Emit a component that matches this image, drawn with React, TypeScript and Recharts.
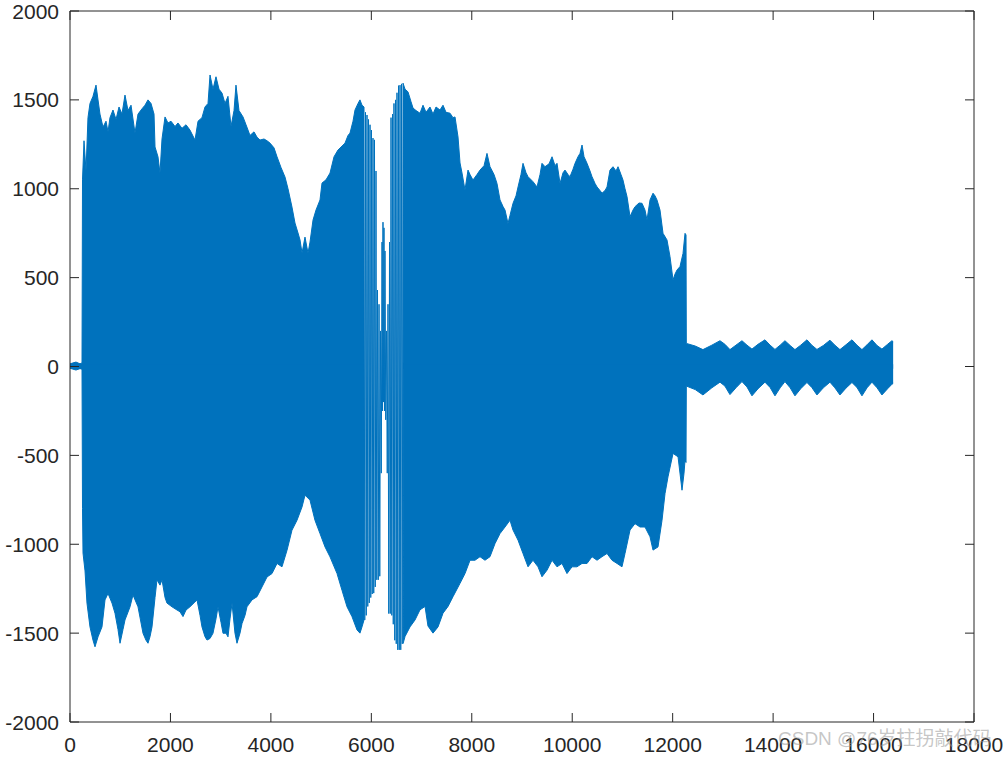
import { ComposedChart, Area, Line, XAxis, YAxis } from 'recharts'

const SIGNAL = '#0072BD'
const AXIS = '#262626'
const FONT = '"Liberation Sans", Arial, Helvetica, sans-serif'

const xTicks = [0, 2000, 4000, 6000, 8000, 10000, 12000, 14000, 16000, 18000]
const yTicks = [-2000, -1500, -1000, -500, 0, 500, 1000, 1500, 2000]

// upper envelope of the waveform (sample index, amplitude); null = sparse burst near 6200
const upperT = [
  0, 119, 199, 239, 249, 279, 319, 358, 398, 458, 518, 558, 597, 657, 717, 757, 796, 856, 916, 976,
  1035, 1095, 1155, 1215, 1294, 1354, 1434, 1493, 1553, 1613, 1673, 1693, 1752, 1792, 1832, 1892, 1951,
  2011, 2091, 2150, 2230, 2310, 2389, 2489, 2549, 2628, 2688, 2748, 2788, 2847, 2907, 2967, 3027, 3086,
  3146, 3206, 3266, 3305, 3365, 3445, 3505, 3584, 3664, 3724, 3783, 3863, 3923, 3982, 4062, 4122, 4201,
  4281, 4341, 4420, 4480, 4540, 4580, 4620, 4679, 4739, 4779, 4839, 4898, 4978, 5018, 5097, 5177, 5257,
  5336, 5416, 5476, 5536, 5575, 5635, 5675, 5735, 5774, 5814, 5854, 6240,
  6631, 6671, 6730, 6790, 6830, 6890, 6969, 7029, 7089, 7168, 7228, 7288, 7367, 7427, 7487, 7567, 7626,
  7666, 7726, 7766, 7806, 7865, 7925, 7965, 8024, 8104, 8164, 8244, 8303, 8363, 8443, 8502, 8562, 8622,
  8662, 8721, 8761, 8821, 8881, 8921, 8980, 9020, 9080, 9120, 9219, 9299, 9359, 9398, 9458, 9538, 9598,
  9657, 9697, 9757, 9817, 9856, 9916, 9956, 10016, 10056, 10115, 10155, 10195, 10235, 10295, 10354,
  10394, 10454, 10494, 10553, 10593, 10653, 10693, 10752, 10812, 10872, 10912, 10971, 11011, 11051,
  11091, 11151, 11210, 11250, 11330, 11390, 11449, 11489, 11549, 11609, 11649, 11688, 11748, 11808,
  11887, 11947, 12007, 12047, 12087, 12146, 12206, 12246, 12266,
  12272, 12450, 12603, 12780, 12942, 13040, 13141, 13260, 13380, 13480, 13579, 13700, 13838, 13940,
  14037, 14140, 14236, 14340, 14435, 14550, 14674, 14770, 14873, 15000, 15132, 15230, 15331, 15450,
  15570, 15670, 15769, 15870, 15968, 16070, 16167, 16280, 16366, 16390,
]
const upperV = [
  15, 25, 15, 20, 1050, 1270, 1100, 1400, 1480, 1520, 1583, 1500, 1420, 1347, 1380, 1320, 1400, 1443, 1390, 1460,
  1420, 1527, 1440, 1470, 1313, 1420, 1450, 1470, 1500, 1480, 1420, 1235, 1180, 1088, 1280, 1404, 1370,
  1380, 1350, 1370, 1340, 1360, 1330, 1274, 1380, 1400, 1460, 1480, 1640, 1560, 1630, 1560, 1538, 1480,
  1520, 1350, 1440, 1583, 1440, 1404, 1360, 1300, 1320, 1290, 1274, 1280, 1270, 1257, 1230, 1180, 1120,
  1066, 1000, 897, 807, 751, 712, 638, 728, 638, 700, 824, 880, 937, 1032, 1050, 1088, 1180,
  1218, 1240, 1257, 1300, 1313, 1380, 1443, 1480, 1500, 1470, 1460, null,
  1594, 1560, 1545, 1490, 1454, 1440, 1425, 1470, 1430, 1460, 1420, 1460, 1443, 1470, 1430, 1425, 1400,
  1404, 1291, 1145, 1088, 993, 1105, 1080, 1049, 1080, 1105, 1130, 1199, 1124, 1080, 1030, 937, 900,
  880, 805, 850, 918, 960, 1010, 1080, 1143, 1090, 1068, 1040, 1010, 1080, 1143, 1124, 1140, 1180,
  1130, 1143, 1030, 1090, 1105, 1080, 1068, 1110, 1143, 1180, 1199, 1246, 1180, 1143, 1100,
  1068, 1030, 1010, 990, 975, 990, 1010, 1105, 1124, 1100, 1124, 1080, 1049, 1000,
  956, 843, 880, 899, 920, 918, 880, 824, 937, 975, 960, 937, 880, 749,
  712, 618, 487, 520, 543, 562, 636, 749, 740,
  130, 115, 95, 120, 145, 125, 95, 120, 145, 120, 98, 125, 150, 120,
  96, 120, 145, 118, 95, 120, 150, 120, 96, 118, 148, 120, 95, 122,
  150, 120, 95, 122, 150, 118, 98, 125, 145, 140,
]

// lower envelope of the waveform
const lowerT = [
  0, 119, 199, 239, 249, 259, 299, 338, 398, 458, 498, 558, 637, 697, 757, 836, 896, 956, 996, 1055,
  1095, 1195, 1254, 1354, 1454, 1513, 1553, 1593, 1633, 1693, 1732, 1792, 1832, 1892, 1931, 2031, 2131,
  2190, 2250, 2310, 2389, 2469, 2529, 2589, 2628, 2688, 2728, 2788, 2847, 2907, 2947, 3007, 3047, 3106,
  3146, 3186, 3226, 3285, 3325, 3385, 3425, 3485, 3524, 3624, 3724, 3823, 3923, 4022, 4122, 4221, 4321,
  4420, 4520, 4620, 4679, 4739, 4779, 4878, 4978, 5078, 5177, 5317, 5416, 5516, 5615, 5715, 5774, 5814,
  5854, 6240,
  6631, 6671, 6770, 6870, 6969, 7069, 7128, 7228, 7328, 7427, 7527, 7626, 7766, 7865, 7965, 8064, 8164,
  8263, 8363, 8463, 8562, 8662, 8761, 8821, 8921, 9020, 9120, 9219, 9319, 9398, 9498, 9598, 9697, 9797,
  9896, 9996, 10095, 10195, 10295, 10394, 10494, 10593, 10693, 10792, 10892, 10991, 11051, 11151, 11250,
  11350, 11449, 11549, 11609, 11708, 11788, 11848, 11907, 12007, 12107, 12186, 12226, 12246, 12266,
  12272, 12450, 12603, 12780, 12942, 13040, 13141, 13260, 13380, 13480, 13579, 13700, 13838, 13940,
  14037, 14140, 14236, 14340, 14435, 14550, 14674, 14770, 14873, 15000, 15132, 15230, 15331, 15450,
  15570, 15670, 15769, 15870, 15968, 16070, 16167, 16280, 16366, 16390,
]
const lowerV = [
  -10, -20, -12, -15, -800, -1049, -1150, -1331, -1465, -1540, -1577, -1521, -1465, -1313, -1277, -1331, -1388, -1480, -1557, -1480,
  -1426, -1352, -1285, -1352, -1501, -1540, -1557, -1520, -1465, -1300, -1200, -1230, -1200, -1300, -1331, -1352, -1370,
  -1380, -1407, -1370, -1352, -1330, -1313, -1400, -1465, -1520, -1539, -1530, -1501, -1420, -1352, -1440, -1501, -1500,
  -1521, -1420, -1331, -1500, -1557, -1500, -1446, -1400, -1352, -1313, -1295, -1240, -1184, -1165, -1108, -1127, -1034,
  -921, -865, -790, -724, -740, -752, -865, -940, -1015, -1071, -1165, -1259, -1352, -1407, -1482, -1500, -1465,
  -1426, null,
  -1560, -1519, -1465, -1426, -1369, -1350, -1460, -1500, -1465, -1388, -1350, -1295, -1220, -1165, -1090, -1090, -1070,
  -1090, -1070, -996, -940, -903, -865, -920, -977, -1052, -1127, -1090, -1127, -1183, -1146, -1090, -1127, -1108,
  -1165, -1127, -1127, -1108, -1108, -1070, -1090, -1070, -1052, -1090, -1108, -1127, -1052, -920, -884,
  -903, -903, -958, -1033, -1015, -865, -714, -621, -489, -508, -696, -600, -527, -540,
  -110, -130, -160, -120, -88, -110, -158, -120, -85, -115, -165, -125, -88, -118,
  -165, -120, -85, -120, -165, -125, -90, -118, -160, -120, -88, -120, -160, -122,
  -90, -118, -165, -120, -88, -120, -160, -125, -100, -95,
]

// individual oscillations visible in the sparse burst around 6000-6600
const burstT = [
  5854, 5869, 5884, 5899, 5914, 5929, 5944, 5959, 5974, 5989, 6003, 6018, 6033, 6048, 6063, 6078,
  6093, 6108, 6123, 6138, 6153, 6168, 6183, 6198, 6213, 6223, 6232, 6242, 6252, 6262, 6272, 6287,
  6302, 6317, 6332, 6347, 6362, 6377, 6392, 6407, 6422, 6437, 6451, 6466, 6481, 6496, 6511, 6526,
  6541, 6556, 6571, 6586, 6601, 6616, 6631,
]
const burstV = [
  1460, -1426, 1430, -1400, 1415, -1350, 1390, -1330, 1360, -1300, 1330, -1280, 1285, -1275, 1275, -1240,
  1100, -1200, 430, -1200, 350, -1180, 200, -600, 700, -250, 812, -200, 780, -250, 650, -300,
  200, -600, 350, -1390, 700, -1390, 1400, -1400, 1420, -1450, 1480, -1540, 1500, -1560, 1540, -1594,
  1580, -1594, 1583, -1594, 1590, -1560, 1594,
]

const toRows = (ts: number[], vs: (number | null)[]) => ts.map((t, i) => ({ t, v: vs[i] }))

const upperData = toRows(upperT, upperV)
const lowerData = toRows(lowerT, lowerV)
const burstData = toRows(burstT, burstV)

const TICK_LEN = 9

function BottomTick({ x, y, payload }: any) {
  return (
    <g>
      <line x1={x} x2={x} y1={y} y2={y - TICK_LEN} stroke={AXIS} />
      <text x={x} y={y + 30} textAnchor="middle" fontSize={21} fill={AXIS} fontFamily={FONT}>
        {payload.value}
      </text>
    </g>
  )
}

function LeftTick({ x, y, payload }: any) {
  return (
    <g>
      <line x1={x} x2={x + TICK_LEN} y1={y} y2={y} stroke={AXIS} />
      <text x={x - 11} y={y} dy="0.36em" textAnchor="end" fontSize={21} fill={AXIS} fontFamily={FONT}>
        {payload.value}
      </text>
    </g>
  )
}

function TopTick({ x, y }: any) {
  return <line x1={x} x2={x} y1={y} y2={y + TICK_LEN} stroke={AXIS} />
}

function RightTick({ x, y }: any) {
  return <line x1={x} x2={x - TICK_LEN} y1={y} y2={y} stroke={AXIS} />
}

export default function App() {
  return (
    <div style={{ position: 'absolute', left: 0, top: 0, width: 1007, height: 757, background: '#fff' }}>
      <ComposedChart width={1007} height={757} margin={{ top: 10, right: 32, bottom: 0, left: 0 }}>
        <XAxis
          xAxisId="bottom"
          dataKey="t"
          type="number"
          domain={[0, 18000]}
          ticks={xTicks}
          interval={0}
          allowDataOverflow
          height={35}
          stroke={AXIS}
          tickLine={false}
          tickSize={0}
          tickMargin={0}
          tick={BottomTick}
        />
        <XAxis
          xAxisId="top"
          orientation="top"
          dataKey="t"
          type="number"
          domain={[0, 18000]}
          ticks={xTicks}
          interval={0}
          allowDataOverflow
          height={1}
          stroke={AXIS}
          tickLine={false}
          tickSize={0}
          tickMargin={0}
          tick={TopTick}
        />
        <YAxis
          yAxisId="left"
          type="number"
          domain={[-2000, 2000]}
          ticks={yTicks}
          interval={0}
          allowDataOverflow
          width={70}
          stroke={AXIS}
          tickLine={false}
          tickSize={0}
          tickMargin={0}
          tick={LeftTick}
        />
        <YAxis
          yAxisId="right"
          orientation="right"
          type="number"
          domain={[-2000, 2000]}
          ticks={yTicks}
          interval={0}
          allowDataOverflow
          width={1}
          stroke={AXIS}
          tickLine={false}
          tickSize={0}
          tickMargin={0}
          tick={RightTick}
        />
        <Area
          data={upperData}
          xAxisId="bottom"
          yAxisId="left"
          dataKey="v"
          type="linear"
          baseValue={-12}
          stroke={SIGNAL}
          strokeWidth={1}
          fill={SIGNAL}
          fillOpacity={1}
          dot={false}
          activeDot={false}
          isAnimationActive={false}
        />
        <Area
          data={lowerData}
          xAxisId="bottom"
          yAxisId="left"
          dataKey="v"
          type="linear"
          baseValue={12}
          stroke={SIGNAL}
          strokeWidth={1}
          fill={SIGNAL}
          fillOpacity={1}
          dot={false}
          activeDot={false}
          isAnimationActive={false}
        />
        <Line
          data={burstData}
          xAxisId="bottom"
          yAxisId="left"
          dataKey="v"
          type="linear"
          stroke={SIGNAL}
          strokeWidth={1}
          dot={false}
          activeDot={false}
          isAnimationActive={false}
        />
      </ComposedChart>
      <div
        style={{
          position: 'absolute',
          left: 778,
          top: 728,
          fontSize: 19,
          lineHeight: '22px',
          color: 'rgba(150,150,150,0.55)',
          fontFamily: '"Liberation Sans", "Noto Sans CJK SC", sans-serif',
          whiteSpace: 'nowrap',
          pointerEvents: 'none',
        }}
      >
        CSDN @76岁拄拐敲代码
      </div>
    </div>
  )
}
